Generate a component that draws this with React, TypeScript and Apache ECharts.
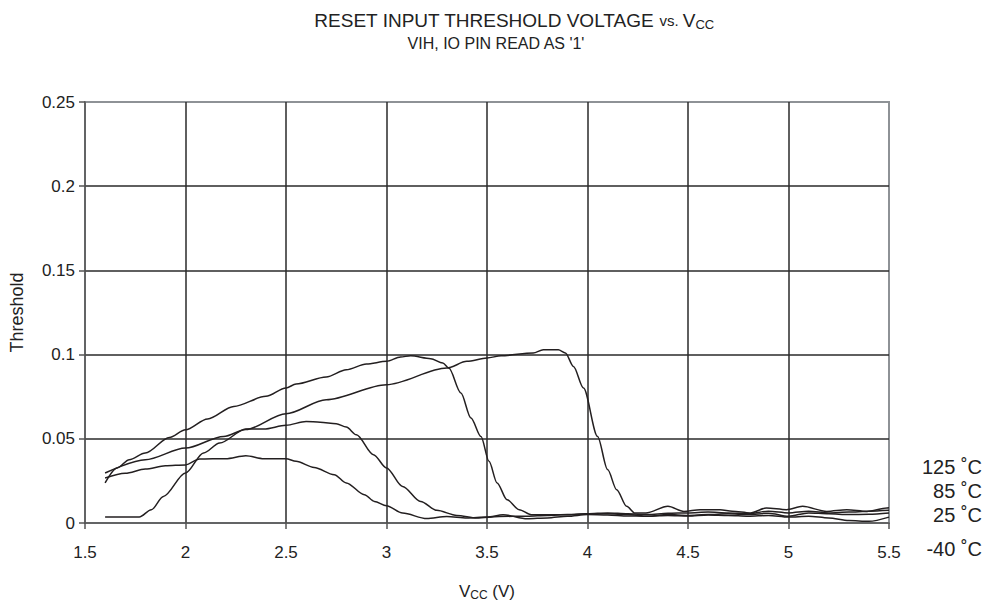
import React, { useEffect, useRef } from "react";
import * as echarts from "echarts";

const xTicks = [1.5, 2, 2.5, 3, 3.5, 4, 4.5, 5, 5.5];
const yTicks = [0, 0.05, 0.1, 0.15, 0.2, 0.25];
const legendLabels = ["125 ˚C", "85 ˚C", "25 ˚C", "-40 ˚C"];

const vccA = [1.6, 1.7, 1.8, 1.9, 2.0, 2.07, 2.2, 2.3, 2.39, 2.5, 2.55, 2.64, 2.74, 2.8, 2.89, 2.94, 3.0, 3.08, 3.2, 3.3, 3.4, 3.5, 3.58, 3.7, 3.8, 3.9, 4.0, 4.1, 4.2, 4.3, 4.4, 4.5, 4.6, 4.7, 4.8, 4.9, 5.0, 5.1, 5.2, 5.3, 5.4, 5.5];
const thrA = [0.0267, 0.0295, 0.032, 0.034, 0.0345, 0.038, 0.0382, 0.04, 0.0382, 0.0382, 0.0366, 0.033, 0.0287, 0.0238, 0.0168, 0.0128, 0.0103, 0.0059, 0.0026, 0.0039, 0.003, 0.0035, 0.0049, 0.0025, 0.003, 0.004, 0.005, 0.0048, 0.0042, 0.004, 0.0045, 0.0042, 0.0048, 0.0045, 0.004, 0.0045, 0.0035, 0.004, 0.003, 0.0015, 0.001, 0.0035];

const vccB = [1.6, 1.77, 1.83, 1.89, 2.0, 2.09, 2.17, 2.3, 2.39, 2.5, 2.6, 2.67, 2.75, 2.8, 2.85, 2.935, 3.0, 3.08, 3.17, 3.25, 3.35, 3.45, 3.56, 3.7, 3.8, 3.9, 4.0, 4.1, 4.2, 4.3, 4.4, 4.5, 4.6, 4.7, 4.8, 4.9, 5.0, 5.1, 5.2, 5.3, 5.4, 5.5];
const thrB = [0.0036, 0.0036, 0.0079, 0.0158, 0.0297, 0.0416, 0.0475, 0.0558, 0.0558, 0.058, 0.0603, 0.0599, 0.059, 0.057, 0.0524, 0.0406, 0.0327, 0.0217, 0.0128, 0.0075, 0.0045, 0.003, 0.0039, 0.004, 0.0045, 0.005, 0.0055, 0.0055, 0.005, 0.004, 0.005, 0.0045, 0.005, 0.0055, 0.005, 0.0058, 0.004, 0.006, 0.0055, 0.005, 0.0052, 0.006];

const vccC = [1.6, 1.66, 1.72, 1.8, 1.92, 2.0, 2.11, 2.24, 2.4, 2.5, 2.55, 2.7, 2.8, 2.9, 3.0, 3.07, 3.12, 3.22, 3.28, 3.31, 3.37, 3.42, 3.47, 3.51, 3.55, 3.6, 3.66, 3.72, 3.8, 3.9, 4.0, 4.1, 4.2, 4.3, 4.4, 4.5, 4.6, 4.7, 4.8, 4.9, 5.0, 5.1, 5.2, 5.3, 5.4, 5.5];
const thrC = [0.0238, 0.0327, 0.0376, 0.0416, 0.0508, 0.0554, 0.0618, 0.0692, 0.0752, 0.0802, 0.0825, 0.0867, 0.091, 0.0944, 0.096, 0.0986, 0.0993, 0.0976, 0.095, 0.092, 0.0772, 0.0624, 0.0514, 0.0366, 0.0238, 0.0138, 0.0079, 0.0049, 0.0049, 0.0049, 0.0055, 0.006, 0.0055, 0.005, 0.0058, 0.006, 0.0065, 0.006, 0.0055, 0.007, 0.006, 0.007, 0.006, 0.0065, 0.007, 0.0075];

const vccD = [1.6, 1.8, 2.0, 2.19, 2.3, 2.5, 2.7, 3.0, 3.3, 3.4, 3.5, 3.57, 3.73, 3.78, 3.855, 3.89, 3.93, 3.98, 4.05, 4.1, 4.145, 4.195, 4.236, 4.29, 4.4, 4.48, 4.56, 4.66, 4.72, 4.81, 4.89, 4.99, 5.07, 5.19, 5.29, 5.39, 5.49, 5.5];
const thrD = [0.0297, 0.0376, 0.0445, 0.0514, 0.0555, 0.0649, 0.0732, 0.0821, 0.092, 0.096, 0.098, 0.0993, 0.101, 0.1029, 0.1029, 0.101, 0.093, 0.0802, 0.0514, 0.0317, 0.0198, 0.0099, 0.0059, 0.006, 0.0099, 0.0069, 0.0079, 0.0079, 0.007, 0.006, 0.0089, 0.0079, 0.0099, 0.0069, 0.0079, 0.0069, 0.0089, 0.009];

const seriesNames = ["125 C", "85 C", "25 C", "-40 C"];
const seriesX = [vccA, vccB, vccC, vccD];
const seriesY = [thrA, thrB, thrC, thrD];

const FONT = "Liberation Sans, Arial, sans-serif";

export default function App() {
  const ref = useRef<HTMLDivElement>(null);
  useEffect(() => {
    if (!ref.current) return;
    const chart = echarts.init(ref.current, null, { renderer: "svg" });
    const legendY = [467, 491, 515, 549];
    chart.setOption({
      animation: false,
      backgroundColor: "#ffffff",
      textStyle: { fontFamily: FONT },
      grid: {
        left: 85,
        right: 103,
        top: 102,
        bottom: 83,
        containLabel: false,
        outerBoundsMode: "none",
        show: true,
        borderColor: "#8e9296",
        borderWidth: 2,
        backgroundColor: "#ffffff",
      },
      xAxis: {
        type: "value",
        min: xTicks[0],
        max: xTicks[xTicks.length - 1],
        interval: 0.5,
        axisLine: { show: true, onZero: false, lineStyle: { color: "#555", width: 1.5 } },
        axisTick: { show: true, length: 6, lineStyle: { color: "#555", width: 1.5 } },
        axisLabel: { color: "#222", fontSize: 17, margin: 21, fontFamily: FONT },
        splitLine: { show: true, showMaxLine: false, showMinLine: false, lineStyle: { color: "#2a2a2a", width: 1.5 } },
      },
      yAxis: {
        type: "value",
        min: yTicks[0],
        max: yTicks[yTicks.length - 1],
        interval: 0.05,
        name: "Threshold",
        nameLocation: "middle",
        nameGap: 59,
        nameRotate: 90,
        nameTextStyle: { color: "#222", fontSize: 18, fontFamily: FONT },
        axisLine: { show: true, lineStyle: { color: "#555", width: 1.5 } },
        axisTick: { show: true, length: 6, lineStyle: { color: "#555", width: 1.5 } },
        axisLabel: { color: "#222", fontSize: 17, margin: 10, fontFamily: FONT },
        splitLine: { show: true, showMaxLine: false, showMinLine: false, lineStyle: { color: "#2a2a2a", width: 1.5 } },
      },
      series: seriesNames.map((name, i) => ({
        name,
        type: "line",
        data: seriesX[i].map((x, j) => [x, seriesY[i][j]]),
        showSymbol: false,
        symbol: "none",
        smooth: 0.3,
        smoothMonotone: "x",
        lineStyle: { color: "#231f20", width: 1.5 },
        z: 5,
      })),
      graphic: [
        {
          type: "text",
          x: 514,
          y: 20,
          style: {
            text: "{a|RESET INPUT THRESHOLD VOLTAGE }{b|vs. }{a|V}{c|CC}",
            textAlign: "center",
            textVerticalAlign: "middle",
            rich: {
              a: { fontSize: 19, fill: "#222", fontFamily: FONT },
              b: { fontSize: 15, fill: "#222", fontFamily: FONT },
              c: { fontSize: 13, fill: "#222", fontFamily: FONT, padding: [9, 0, 0, 0] },
            },
          },
        },
        {
          type: "text",
          x: 496,
          y: 43,
          style: {
            text: "VIH, IO PIN READ AS '1'",
            textAlign: "center",
            textVerticalAlign: "middle",
            fontSize: 16,
            fill: "#222",
            fontFamily: FONT,
          },
        },
        {
          type: "text",
          x: 487,
          y: 591,
          style: {
            text: "{a|V}{c|CC}{a| (V)}",
            textAlign: "center",
            textVerticalAlign: "middle",
            rich: {
              a: { fontSize: 17, fill: "#222", fontFamily: FONT },
              c: { fontSize: 12, fill: "#222", fontFamily: FONT, padding: [8, 0, 0, 0] },
            },
          },
        },
        ...legendLabels.map((t, i) => ({
          type: "text",
          x: 982,
          y: legendY[i],
          style: {
            text: t,
            textAlign: "right",
            textVerticalAlign: "middle",
            fontSize: 20,
            fill: "#222",
            fontFamily: FONT,
          },
        })),
      ],
    });
    return () => chart.dispose();
  }, []);
  return (
    <div
      ref={ref}
      style={{ position: "fixed", left: 0, top: 0, width: 992, height: 606 }}
    />
  );
}
